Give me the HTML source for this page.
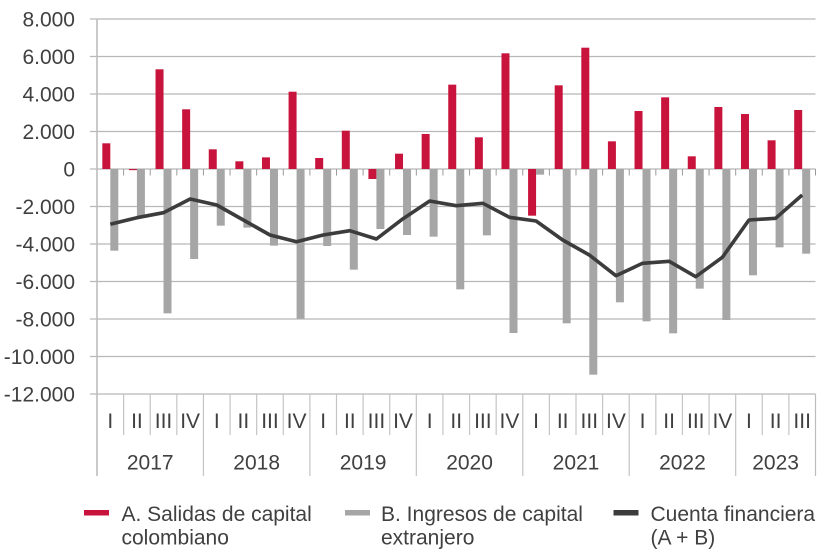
<!DOCTYPE html>
<html>
<head>
<meta charset="utf-8">
<style>
  html,body{margin:0;padding:0;background:#fff;}
  svg{display:block;}
  text{font-family:"Liberation Sans",Arial,sans-serif;fill:#404040;}
</style>
</head>
<body>
<svg width="824" height="554" viewBox="0 0 824 554" xmlns="http://www.w3.org/2000/svg">
  <!-- gridlines -->
  <g stroke="#b8b8b8" stroke-width="1.2">
    <line x1="90" y1="19" x2="815.5" y2="19"/>
    <line x1="90" y1="56.5" x2="815.5" y2="56.5"/>
    <line x1="90" y1="94" x2="815.5" y2="94"/>
    <line x1="90" y1="131.5" x2="815.5" y2="131.5"/>
    <line x1="90" y1="169" x2="815.5" y2="169"/>
    <line x1="90" y1="206.5" x2="815.5" y2="206.5"/>
    <line x1="90" y1="244" x2="815.5" y2="244"/>
    <line x1="90" y1="281.5" x2="815.5" y2="281.5"/>
    <line x1="90" y1="319" x2="815.5" y2="319"/>
    <line x1="90" y1="356.5" x2="815.5" y2="356.5"/>
    <line x1="90" y1="394" x2="815.5" y2="394"/>
  </g>
  <!-- left axis -->
  <line x1="97" y1="19" x2="97" y2="476" stroke="#bcbcbc" stroke-width="1.6"/>
  <line x1="815.5" y1="394" x2="815.5" y2="476" stroke="#bcbcbc" stroke-width="1.2"/>

  <!-- zero-line ticks -->
  <g stroke="#9a9a9a" stroke-width="1">
    <line x1="123.61" y1="169" x2="123.61" y2="175.5"/>
    <line x1="150.22" y1="169" x2="150.22" y2="175.5"/>
    <line x1="176.83" y1="169" x2="176.83" y2="175.5"/>
    <line x1="203.44" y1="169" x2="203.44" y2="175.5"/>
    <line x1="230.06" y1="169" x2="230.06" y2="175.5"/>
    <line x1="256.67" y1="169" x2="256.67" y2="175.5"/>
    <line x1="283.28" y1="169" x2="283.28" y2="175.5"/>
    <line x1="309.89" y1="169" x2="309.89" y2="175.5"/>
    <line x1="336.5" y1="169" x2="336.5" y2="175.5"/>
    <line x1="363.11" y1="169" x2="363.11" y2="175.5"/>
    <line x1="389.72" y1="169" x2="389.72" y2="175.5"/>
    <line x1="416.33" y1="169" x2="416.33" y2="175.5"/>
    <line x1="442.94" y1="169" x2="442.94" y2="175.5"/>
    <line x1="469.56" y1="169" x2="469.56" y2="175.5"/>
    <line x1="496.17" y1="169" x2="496.17" y2="175.5"/>
    <line x1="522.78" y1="169" x2="522.78" y2="175.5"/>
    <line x1="549.39" y1="169" x2="549.39" y2="175.5"/>
    <line x1="576" y1="169" x2="576" y2="175.5"/>
    <line x1="602.61" y1="169" x2="602.61" y2="175.5"/>
    <line x1="629.22" y1="169" x2="629.22" y2="175.5"/>
    <line x1="655.83" y1="169" x2="655.83" y2="175.5"/>
    <line x1="682.44" y1="169" x2="682.44" y2="175.5"/>
    <line x1="709.06" y1="169" x2="709.06" y2="175.5"/>
    <line x1="735.67" y1="169" x2="735.67" y2="175.5"/>
    <line x1="762.28" y1="169" x2="762.28" y2="175.5"/>
    <line x1="788.89" y1="169" x2="788.89" y2="175.5"/>
    <line x1="815.5" y1="169" x2="815.5" y2="175.5"/>
  </g>

  <!-- category axis separators -->
  <g stroke="#c4c4c4" stroke-width="1.2">
    <line x1="123.61" y1="394" x2="123.61" y2="435"/>
    <line x1="150.22" y1="394" x2="150.22" y2="435"/>
    <line x1="176.83" y1="394" x2="176.83" y2="435"/>
    <line x1="203.44" y1="394" x2="203.44" y2="476"/>
    <line x1="230.06" y1="394" x2="230.06" y2="435"/>
    <line x1="256.67" y1="394" x2="256.67" y2="435"/>
    <line x1="283.28" y1="394" x2="283.28" y2="435"/>
    <line x1="309.89" y1="394" x2="309.89" y2="476"/>
    <line x1="336.5" y1="394" x2="336.5" y2="435"/>
    <line x1="363.11" y1="394" x2="363.11" y2="435"/>
    <line x1="389.72" y1="394" x2="389.72" y2="435"/>
    <line x1="416.33" y1="394" x2="416.33" y2="476"/>
    <line x1="442.94" y1="394" x2="442.94" y2="435"/>
    <line x1="469.56" y1="394" x2="469.56" y2="435"/>
    <line x1="496.17" y1="394" x2="496.17" y2="435"/>
    <line x1="522.78" y1="394" x2="522.78" y2="476"/>
    <line x1="549.39" y1="394" x2="549.39" y2="435"/>
    <line x1="576" y1="394" x2="576" y2="435"/>
    <line x1="602.61" y1="394" x2="602.61" y2="435"/>
    <line x1="629.22" y1="394" x2="629.22" y2="476"/>
    <line x1="655.83" y1="394" x2="655.83" y2="435"/>
    <line x1="682.44" y1="394" x2="682.44" y2="435"/>
    <line x1="709.06" y1="394" x2="709.06" y2="435"/>
    <line x1="735.67" y1="394" x2="735.67" y2="476"/>
    <line x1="762.28" y1="394" x2="762.28" y2="435"/>
    <line x1="788.89" y1="394" x2="788.89" y2="435"/>
  </g>

  <!-- red bars (A) -->
  <g fill="#c8143c">
    <rect x="102.31" y="143.31" width="8" height="25.69"/>
    <rect x="128.92" y="169" width="8" height="1.13"/>
    <rect x="155.53" y="69.31" width="8" height="99.69"/>
    <rect x="182.14" y="109.3" width="8" height="59.7"/>
    <rect x="208.75" y="149.31" width="8" height="19.69"/>
    <rect x="235.36" y="161.31" width="8" height="7.69"/>
    <rect x="261.97" y="157.37" width="8" height="11.63"/>
    <rect x="288.58" y="91.69" width="8" height="77.31"/>
    <rect x="315.19" y="157.99" width="8" height="11.01"/>
    <rect x="341.8" y="130.67" width="8" height="38.33"/>
    <rect x="368.42" y="169" width="8" height="9.99"/>
    <rect x="395.03" y="153.68" width="8" height="15.32"/>
    <rect x="421.64" y="133.99" width="8" height="35.01"/>
    <rect x="448.25" y="84.66" width="8" height="84.34"/>
    <rect x="474.86" y="137.31" width="8" height="31.69"/>
    <rect x="501.47" y="53.31" width="8" height="115.69"/>
    <rect x="528.08" y="169" width="8" height="46.67"/>
    <rect x="554.69" y="85.34" width="8" height="83.66"/>
    <rect x="581.3" y="47.69" width="8" height="121.31"/>
    <rect x="607.91" y="141.32" width="8" height="27.68"/>
    <rect x="634.53" y="111.01" width="8" height="57.99"/>
    <rect x="661.14" y="97.34" width="8" height="71.66"/>
    <rect x="687.75" y="156.32" width="8" height="12.68"/>
    <rect x="714.36" y="106.99" width="8" height="62.01"/>
    <rect x="740.97" y="114.01" width="8" height="54.99"/>
    <rect x="767.58" y="140.31" width="8" height="28.69"/>
    <rect x="794.19" y="109.99" width="8" height="59.01"/>
  </g>

  <!-- gray bars (B) -->
  <g fill="#a6a6a6">
    <rect x="110.31" y="169" width="8" height="81.68"/>
    <rect x="136.92" y="169" width="8" height="47.81"/>
    <rect x="163.53" y="169" width="8" height="144.34"/>
    <rect x="190.14" y="169" width="8" height="90"/>
    <rect x="216.75" y="169" width="8" height="56.66"/>
    <rect x="243.36" y="169" width="8" height="58.67"/>
    <rect x="269.97" y="169" width="8" height="76.67"/>
    <rect x="296.58" y="169" width="8" height="149.66"/>
    <rect x="323.19" y="169" width="8" height="77.01"/>
    <rect x="349.8" y="169" width="8" height="100.67"/>
    <rect x="376.42" y="169" width="8" height="60"/>
    <rect x="403.03" y="169" width="8" height="66"/>
    <rect x="429.64" y="169" width="8" height="67.67"/>
    <rect x="456.25" y="169" width="8" height="120.34"/>
    <rect x="482.86" y="169" width="8" height="66.34"/>
    <rect x="509.47" y="169" width="8" height="164.01"/>
    <rect x="536.08" y="169" width="8" height="5.66"/>
    <rect x="562.69" y="169" width="8" height="154.33"/>
    <rect x="589.3" y="169" width="8" height="205.67"/>
    <rect x="615.91" y="169" width="8" height="133.33"/>
    <rect x="642.53" y="169" width="8" height="152.33"/>
    <rect x="669.14" y="169" width="8" height="164.33"/>
    <rect x="695.75" y="169" width="8" height="119.66"/>
    <rect x="722.36" y="169" width="8" height="150.99"/>
    <rect x="748.97" y="169" width="8" height="106.33"/>
    <rect x="775.58" y="169" width="8" height="78.34"/>
    <rect x="802.19" y="169" width="8" height="84.68"/>
  </g>

  <!-- line (A+B) -->
  <polyline fill="none" stroke="#3c3c3c" stroke-width="3.6" stroke-linejoin="round" stroke-linecap="butt"
    points="110.31,224.3 136.92,217.7 163.53,212.7 190.14,199 216.75,205 243.36,220 269.97,235 296.58,241.7 323.19,235 349.8,230.7 376.42,239 403.03,218.7 429.64,201 456.25,205.7 482.86,203.3 509.47,217.3 536.08,221 562.69,240 589.3,255 615.91,275.7 642.53,263.3 669.14,261.3 695.75,276.7 722.36,257.3 748.97,220 775.58,218.3 802.19,195"/>

  <!-- y labels -->
  <g font-size="21" text-anchor="end">
    <text x="75" y="26.5">8.000</text>
    <text x="75" y="64">6.000</text>
    <text x="75" y="101.5">4.000</text>
    <text x="75" y="139">2.000</text>
    <text x="75" y="176.5">0</text>
    <text x="75" y="214">-2.000</text>
    <text x="75" y="251.5">-4.000</text>
    <text x="75" y="289">-6.000</text>
    <text x="75" y="326.5">-8.000</text>
    <text x="75" y="364">-10.000</text>
    <text x="75" y="401.5">-12.000</text>
  </g>

  <!-- quarter labels -->
  <g font-size="21" text-anchor="middle">
    <text x="110.31" y="428">I</text>
    <text x="136.92" y="428">II</text>
    <text x="163.53" y="428">III</text>
    <text x="190.14" y="428">IV</text>
    <text x="216.75" y="428">I</text>
    <text x="243.36" y="428">II</text>
    <text x="269.97" y="428">III</text>
    <text x="296.58" y="428">IV</text>
    <text x="323.19" y="428">I</text>
    <text x="349.8" y="428">II</text>
    <text x="376.42" y="428">III</text>
    <text x="403.03" y="428">IV</text>
    <text x="429.64" y="428">I</text>
    <text x="456.25" y="428">II</text>
    <text x="482.86" y="428">III</text>
    <text x="509.47" y="428">IV</text>
    <text x="536.08" y="428">I</text>
    <text x="562.69" y="428">II</text>
    <text x="589.3" y="428">III</text>
    <text x="615.91" y="428">IV</text>
    <text x="642.53" y="428">I</text>
    <text x="669.14" y="428">II</text>
    <text x="695.75" y="428">III</text>
    <text x="722.36" y="428">IV</text>
    <text x="748.97" y="428">I</text>
    <text x="775.58" y="428">II</text>
    <text x="802.19" y="428">III</text>
  </g>

  <!-- year labels -->
  <g font-size="21" text-anchor="middle">
    <text x="150.22" y="469.5">2017</text>
    <text x="256.67" y="469.5">2018</text>
    <text x="363.11" y="469.5">2019</text>
    <text x="469.56" y="469.5">2020</text>
    <text x="576" y="469.5">2021</text>
    <text x="682.44" y="469.5">2022</text>
    <text x="775.58" y="469.5">2023</text>
  </g>

  <!-- legend -->
  <rect x="84" y="510" width="25" height="5.5" fill="#c8143c"/>
  <text x="121.5" y="521" font-size="21">A. Salidas de capital<tspan x="121.5" y="544.5">colombiano</tspan></text>

  <rect x="345" y="510" width="25" height="5.5" fill="#a6a6a6"/>
  <text x="381" y="521" font-size="21">B. Ingresos de capital<tspan x="381" y="544.5">extranjero</tspan></text>

  <rect x="613.5" y="510" width="25" height="5.5" fill="#3c3c3c"/>
  <text x="650.5" y="521" font-size="21">Cuenta financiera<tspan x="650.5" y="544.5">(A + B)</tspan></text>
</svg>
</body>
</html>
